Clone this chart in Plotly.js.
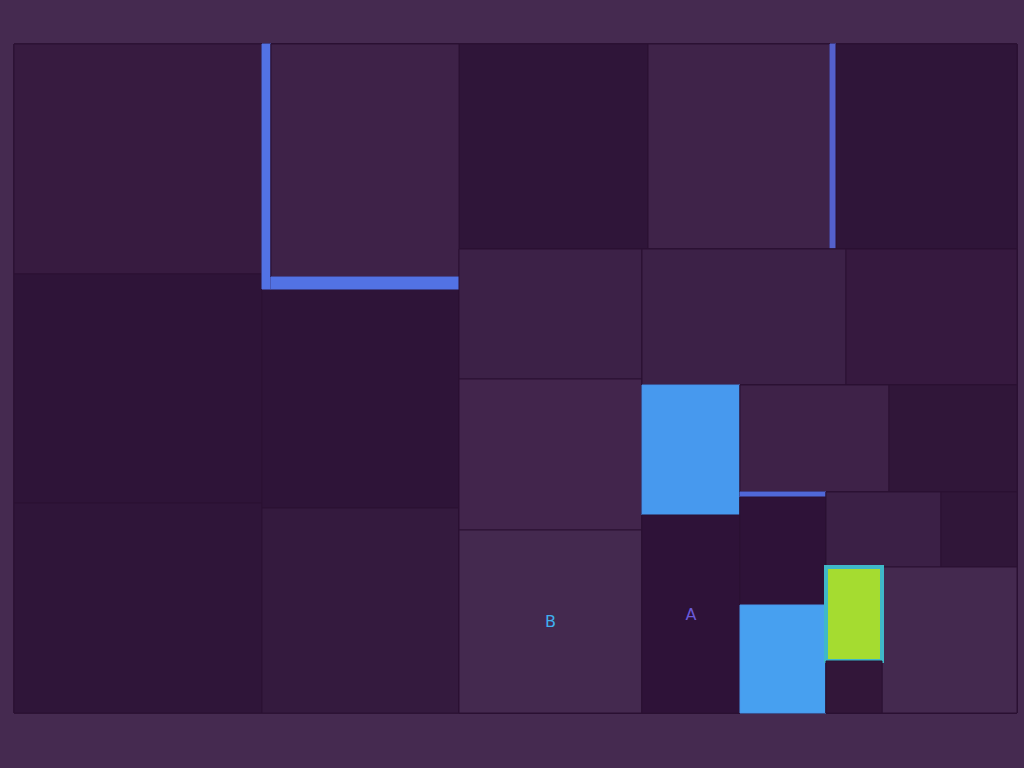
<!DOCTYPE html>
<html>
<head>
<meta charset="utf-8">
<script src="https://cdn.plot.ly/plotly-3.0.1.min.js"></script>
<style>html,body{margin:0;padding:0;background:#452a50;}</style>
</head>
<body>
<div id="chart" style="width:1024px;height:768px;"></div>
<script>
// Hierarchy (guillotine layout drawn with slice-dice packing)
var ids = [
  'root',
  'C1', 'c1a', 'c1b', 'c1c',
  'C2', 'C2top', 'V', 'G', 'Gmain', 'H', 'c2b', 'c2c',
  'R', 'R1', 'r1a', 'r1b', 'r1s', 'r1c',
  'R2', 'R2a', 'r2a1', 'r2a2', 'B',
  'R2b', 'R2b1', 'r2b1a', 'r2b1b',
  'R2b2', 'X1', 'x1blue', 'A',
  'X2', 'X2a', 'x2a1', 'x2a2',
  'X2b', 'Y1', 'y1s', 'y1dark', 'y1blue',
  'Y2', 'Y2a', 'y2a1', 'y2a2',
  'Y2b', 'Z1', 'z1green', 'z1dark', 'Z2'
];
var labels = [
  'Total',
  'C1', 'C1-a', 'C1-b', 'C1-c',
  'C2', 'C2-top', 'C2-v', 'C2-g', 'C2-main', 'C2-h', 'C2-b', 'C2-c',
  'R', 'R1', 'R1-a', 'R1-b', 'R1-s', 'R1-c',
  'R2', 'R2a', 'R2a-1', 'R2a-2', 'B',
  'R2b', 'R2b1', 'R2b1-a', 'R2b1-b',
  'R2b2', 'X1', 'X1-a', 'A',
  'X2', 'X2a', 'X2a-1', 'X2a-2',
  'X2b', 'Y1', 'Y1-s', 'Y1-a', 'Y1-b',
  'Y2', 'Y2a', 'Y2a-1', 'Y2a-2',
  'Y2b', 'Z1', 'Z1-a', 'Z1-b', 'Z2'
];
var parents = [
  '',
  'root', 'C1', 'C1', 'C1',
  'root', 'C2', 'C2top', 'C2top', 'G', 'G', 'C2', 'C2',
  'root', 'R', 'R1', 'R1', 'R1', 'R1',
  'R', 'R2', 'R2a', 'R2a', 'R2a',
  'R2', 'R2b', 'R2b1', 'R2b1',
  'R2b', 'R2b2', 'X1', 'X1',
  'R2b2', 'X2', 'X2a', 'X2a',
  'X2', 'X2b', 'Y1', 'Y1', 'Y1',
  'X2b', 'Y2', 'Y2a', 'Y2a',
  'Y2', 'Y2b', 'Z1', 'Z1', 'Y2b'
];
var values = [
  0,
  0, 57040, 56792, 52080,
  0, 0, 2205, 0, 43804, 2256, 43143, 40385,
  0, 0, 38745, 37310, 1230, 37105,
  0, 0, 23790, 27633, 33489,
  0, 0, 27744, 23256,
  0, 0, 12740, 19404,
  0, 0, 15943, 13696,
  0, 0, 430, 9288, 9288,
  0, 0, 8625, 5700,
  0, 0, 5264, 2912, 19710
];
var shownLabels = ['A', 'B'];

// Styles
var tileColors = [
  '#452a50',
  '#371b40', '#371b40', '#2e1438', '#2f1539',
  '#3e2248', '#3e2248', '#5272e4', '#3e2248', '#3e2248', '#5272e4', '#2e1438', '#341a3e',
  '#2f1539', '#2f1539', '#2f1539', '#3f2349', '#5460cc', '#2f1539',
  '#3c2147', '#3c2147', '#3c2147', '#42254c', '#44294f',
  '#3c2147', '#3c2147', '#3c2147', '#36193f',
  '#2e1238', '#2e1238', '#4799ee', '#2e1238',
  '#3e2248', '#3e2248', '#3e2248', '#301639',
  '#2e1238', '#2e1238', '#5068d8', '#2e1238', '#47a0f0',
  '#3b2046', '#3b2046', '#3b2046', '#301639',
  '#44294f', '#321639', '#a5dc30', '#321639', '#44294f'
];
var edgeColors = { V: '#5272e4', H: '#5272e4', r1s: '#5460cc', y1s: '#5068d8',
  x1blue: '#4a92ec', y1blue: '#4a96ec', z1green: '#3fb8c8' };
var edgeWidths = { V: 1, H: 1, r1s: 1, y1s: 1, x1blue: 1, y1blue: 1, z1green: 4 };
var lineColors = ids.map(function (id) { return edgeColors[id] || '#2a1133'; });
var lineWidths = ids.map(function (id) { return edgeWidths[id] || 1; });
var texts = labels.map(function (l) { return shownLabels.indexOf(l) >= 0 ? l : ''; });
var textColors = labels.map(function (l) { return l === 'A' ? '#6a5ad8' : '#3fb0f0'; });

var trace = {
  type: 'treemap',
  ids: ids,
  labels: labels,
  parents: parents,
  values: values,
  text: texts,
  textinfo: 'text',
  textposition: 'middle center',
  textfont: { family: 'DejaVu Sans', size: 16, color: textColors },
  sort: false,
  branchvalues: 'remainder',
  tiling: { packing: 'slice-dice', pad: 0 },
  pathbar: { visible: false },
  marker: {
    colors: tileColors,
    line: { color: lineColors, width: lineWidths },
    pad: { t: 0, l: 0, r: 0, b: 0 }
  },
  hoverinfo: 'label+value'
};

var layout = {
  width: 1024,
  height: 768,
  paper_bgcolor: '#452a50',
  plot_bgcolor: '#452a50',
  margin: { l: 14, r: 7, t: 44, b: 55 },
  showlegend: false
};

Plotly.newPlot('chart', [trace], layout, { displayModeBar: false, staticPlot: true });
</script>
</body>
</html>
